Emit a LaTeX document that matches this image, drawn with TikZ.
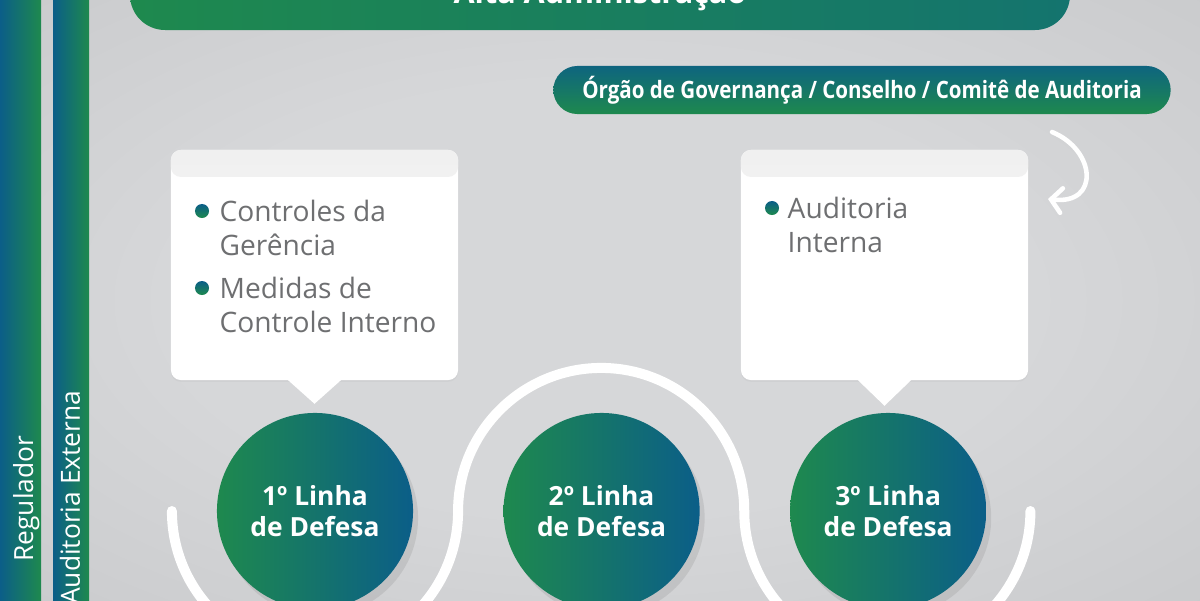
\documentclass[tikz,border=0pt]{standalone}
\usepackage{fontspec}
\setmainfont{Open Sans}
\newfontfamily\condfont[FakeStretch=0.86]{Open Sans}
\usepackage{xcolor}
\usepackage{tikz}
\usetikzlibrary{positioning,shadows,arrows.meta,calc}

\definecolor{lgreen}{RGB}{30,137,78}
\definecolor{lblue}{RGB}{11,94,136}
\definecolor{lteal}{RGB}{20,116,110}
\definecolor{txtgray}{RGB}{110,111,113}
\definecolor{bgin}{RGB}{214,215,217}
\definecolor{bgout}{RGB}{178,179,181}
\pgfdeclareradialshading{backglow}{\pgfpoint{0bp}{0bp}}{color(0bp)=(bgin); color(18bp)=(bgin); color(72bp)=(bgout)}

\begin{document}
\begin{tikzpicture}
		[x=0.01cm,y=-0.01cm,
		every node/.style={inner sep=0pt},
		side bar/.style={left color=lblue,right color=lgreen},
		bar label/.style={rotate=90,anchor=base east,text=white,font=\fontsize{7.5}{9}\selectfont},
		pill/.style={rectangle,rounded corners=0.24cm,minimum width=6.17cm,minimum height=0.48cm,
			top color=lblue!85!lgreen,bottom color=lgreen,text=white,font=\condfont\bfseries\fontsize{6.8}{7.5}\selectfont},
		bubble/.style={rectangle,fill=white,rounded corners=0.1cm,minimum width=2.87cm,minimum height=2.3cm,
			drop shadow={opacity=0.08,shadow xshift=0pt,shadow yshift=-0.5pt},
			path picture={\shade[top color=black!6,bottom color=black!1] (path picture bounding box.north west) rectangle ([yshift=-0.27cm]path picture bounding box.north east);}},
		bubble tip/.style={fill=white},
		bullet dot/.style={circle,minimum size=0.14cm,top color=lblue,bottom color=lgreen},
		bullet text/.style={anchor=base west,align=left,text=txtgray,font=\fontsize{8}{9.4}\selectfont},
		defense/.style={circle,minimum size=1.96cm,left color=lgreen,right color=lblue,text=white,align=center,
			font=\bfseries\fontsize{7.5}{8.8}\selectfont,
			drop shadow={opacity=0.2,shadow xshift=0.5mm,shadow yshift=-0.7mm}},
		serpent line/.style={draw=white,line width=0.1cm,line cap=round},
		curl arrow/.style={draw=white,line width=1.3pt,line cap=round,-{Straight Barb[length=3pt,width=7pt,line cap=round]}}]
		\useasboundingbox (0,0) rectangle (1200,600);
		\clip (0,0) rectangle (1200,600);
		\shade[shading=backglow] (0,0) rectangle (1200,600);
		\shade[side bar] (0,0) rectangle (41,600);
		\shade[side bar] (53,0) rectangle (89,600);
		\node[bar label] (regulador) at (33,435) {Regulador};
		\node[bar label] (externa) at (80,390) {Auditoria Externa};
		\shade[left color=lgreen,right color=lteal,rounded corners=0.35cm] (130,-60) rectangle (1070,30);
		\node[anchor=base,text=white,font=\bfseries\fontsize{8.7}{10}\selectfont] (alta) at (600,4) {Alta Administração};
		\node[pill] (orgao) at (862,90) {Órgão de Governança / Conselho / Comitê de Auditoria};
		\node[bubble] (box1) at (314.5,265) {};
		\fill[bubble tip] ([xshift=-0.28cm,yshift=0.02cm]box1.south) -- ([yshift=-0.23cm]box1.south) -- ([xshift=0.28cm,yshift=0.02cm]box1.south) -- cycle;
		\node[bullet dot] (dot1) at (202,211) {};
		\node[bullet text] (gerencia) at (219,255) {Controles da\\Gerência};
		\node[bullet dot] (dot2) at (202,288) {};
		\node[bullet text] (medidas) at (219,332) {Medidas de\\Controle Interno};
		\node[bubble] (box3) at (884.5,265) {};
		\fill[bubble tip] ([xshift=-0.28cm,yshift=0.02cm]box3.south) -- ([yshift=-0.25cm]box3.south) -- ([xshift=0.28cm,yshift=0.02cm]box3.south) -- cycle;
		\node[bullet dot] (dot3) at (772,208) {};
		\node[bullet text] (auditoria) at (787,252) {Auditoria\\Interna};
		\node[defense] (line1) at (315,511) {1º Linha\\de Defesa};
		\node[defense,right=0.89cm of line1] (line2) {2º Linha\\de Defesa};
		\node[defense,right=0.89cm of line2] (line3) {3º Linha\\de Defesa};
		\draw[serpent line] ([xshift=-1.43cm]line1.center)
			arc[start angle=180,end angle=360,radius=1.43cm]
			arc[start angle=180,end angle=0,radius=1.43cm]
			arc[start angle=180,end angle=360,radius=1.43cm];
		\coordinate (curlstart) at (1052,132);
		\coordinate (curlend) at (1048,199);
		\draw[curl arrow] (curlstart) .. controls (1096,150) and (1100,205) .. (curlend);
\end{tikzpicture}
\end{document}
